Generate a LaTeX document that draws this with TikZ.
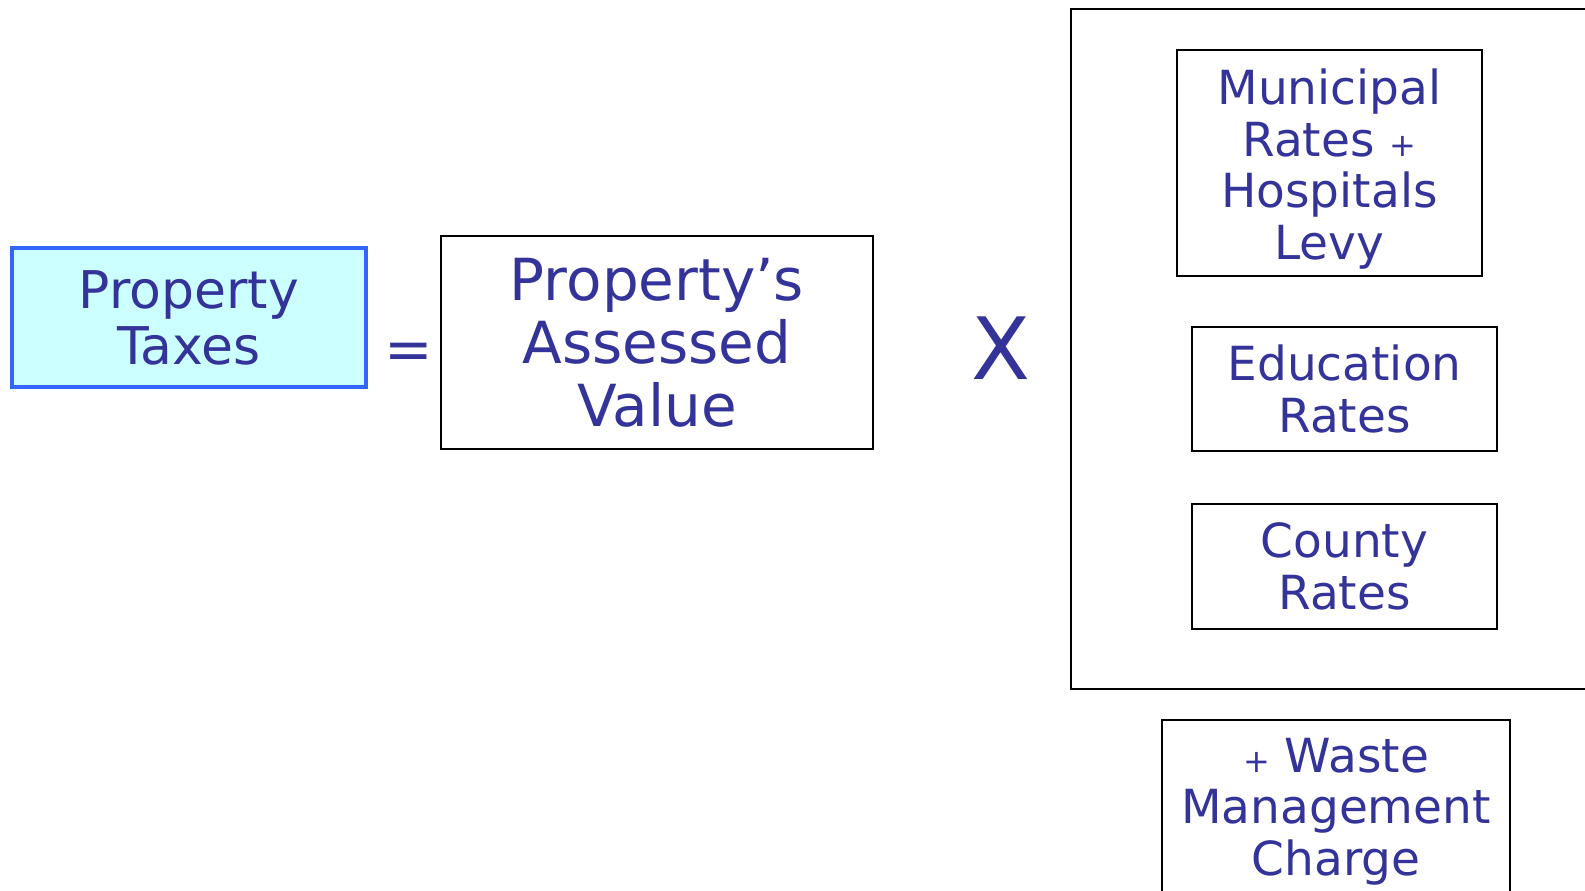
\documentclass[tikz,border=0pt]{standalone}
\usepackage{fontspec}
\setmainfont{DejaVu Sans}
\usepackage{tikz}

\definecolor{txtblue}{RGB}{51,51,153}
\definecolor{taxfill}{RGB}{204,255,255}
\definecolor{taxline}{RGB}{51,102,255}

\newcommand{\smallplus}{{\fontsize{32}{0}\selectfont +}}

\begin{document}
\begin{tikzpicture}[x=1pt, y=-1pt,
        every node/.style={text=txtblue, align=center, inner sep=0pt},
        box/.style={draw=black, line width=2.5pt},
        rate/.style={box, minimum width=305pt, font=\fontsize{47}{51.5}\selectfont}]
    \useasboundingbox (0,0) rectangle (1585,891);

    \node (tax) at (189,317.5) [draw=taxline, line width=4pt, fill=taxfill, minimum width=354pt, minimum height=139pt, font=\fontsize{52}{56}\selectfont] {Property\\Taxes};
    \node (eq) at (409,356) [font=\fontsize{58}{63}\selectfont] {=};
    \node (value) at (657,342.5) [box, minimum width=432pt, minimum height=213pt, font=\fontsize{58}{63}\selectfont] {Property’s\\Assessed\\Value};
    \node (times) at (1001,348.5) [font=\fontsize{86}{90}\selectfont] {X};

    \node (rates) at (1345.5,349) [box, minimum width=549pt, minimum height=680pt] {};
    % taller strut on the first line pushes the text a little lower
    \node (muni) at (1329.5,163) [rate, minimum height=226pt] {\rule{0pt}{48pt}Municipal\\Rates \smallplus\\Hospitals\\Levy};
    \node (edu) at (1344.5,389) [rate, minimum height=124pt] {Education\\Rates};
    \node (county) at (1344.5,566.5) [rate, minimum height=125pt] {County\\Rates};

    \node (waste) at (1336,811.5) [box, minimum width=348pt, minimum height=183pt, font=\fontsize{47}{51.5}\selectfont] {\smallplus{} Waste\\Management\\Charge};
\end{tikzpicture}
\end{document}
